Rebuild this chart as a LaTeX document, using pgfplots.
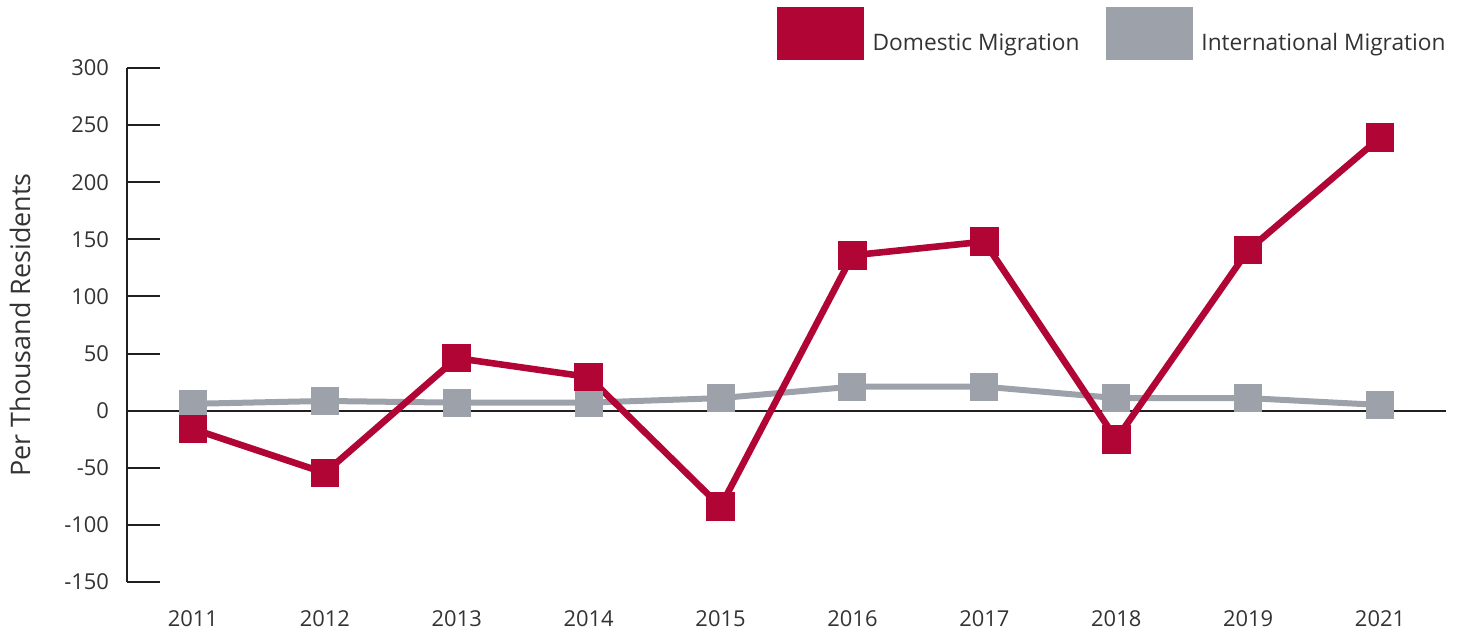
\documentclass[border=0pt]{standalone}
\usepackage{pgfplots}
\pgfplotsset{compat=1.18}
\usepackage{fontspec}
\setmainfont{Open Sans}
\definecolor{dom}{HTML}{B00535}
\definecolor{intl}{HTML}{9DA1A9}
\definecolor{axc}{HTML}{231F20}
\definecolor{txt}{HTML}{333333}
\begin{document}
\begin{tikzpicture}
\path[use as bounding box] (-63.5bp,-26.5bp) rectangle (669bp,291bp);
\begin{axis}[
  at={(0,0)}, anchor=south west,
  scale only axis, width=659.5bp, height=257bp,
  xmin=-0.5, xmax=9.5, ymin=-150, ymax=300,
  axis lines*=left,
  x axis line style={draw=none},
  y axis line style={axc, line width=1bp},
  xtick={0,...,9},
  xticklabels={2011,2012,2013,2014,2015,2016,2017,2018,2019,2021},
  x tick style={draw=none},
  ytick={-150,-100,...,300},
  tick align=inside,
  major tick length=16.5bp,
  y tick style={axc, line width=1bp},
  /pgf/number format/assume math mode=true,
  ticklabel style={font=\fontsize{11}{13}\selectfont, text=txt},
  xticklabel style={yshift=-11bp},
  yticklabel style={xshift=-5.5bp},
  ylabel={Per Thousand Residents},
  every axis y label/.style={at={(axis description cs:0,0.5)}, xshift=-53.5bp, rotate=90, anchor=center,
     font=\fontsize{13.5}{15}\selectfont, text=txt},
  legend columns=2,
  legend image code/.code={\fill (0bp,-8bp) rectangle (43bp,18bp);},
  legend style={at={(1,1)}, anchor=south east, xshift=4.5bp, yshift=4bp, draw=none, fill=none, inner sep=0pt,
    font=\fontsize{11.4}{13}\selectfont, text=txt,
    /tikz/every even column/.append style={column sep=8.5bp},
    nodes={inner xsep=4.5bp}},
]
\addlegendimage{dom}
\addlegendentry{Domestic Migration}
\addlegendimage{intl}
\addlegendentry{International Migration}
\addplot[axc, line width=1bp, forget plot] coordinates {(-0.5,0) (9.5,0)};
\addplot[intl, line width=3bp, mark=square*, mark size=5.5bp, mark options={solid}, forget plot] coordinates {
(0,6) (1,8.5) (2,7) (3,7) (4,11) (5,21) (6,21) (7,11) (8,11) (9,5)};
\addplot[dom, line width=3.3bp, mark=square*, mark size=5.5bp, mark options={solid}, forget plot] coordinates {
(0,-16) (1,-54.5) (2,46) (3,29.5) (4,-84) (5,136) (6,148) (7,-25) (8,140.5) (9,239)};
\end{axis}
\end{tikzpicture}
\end{document}
